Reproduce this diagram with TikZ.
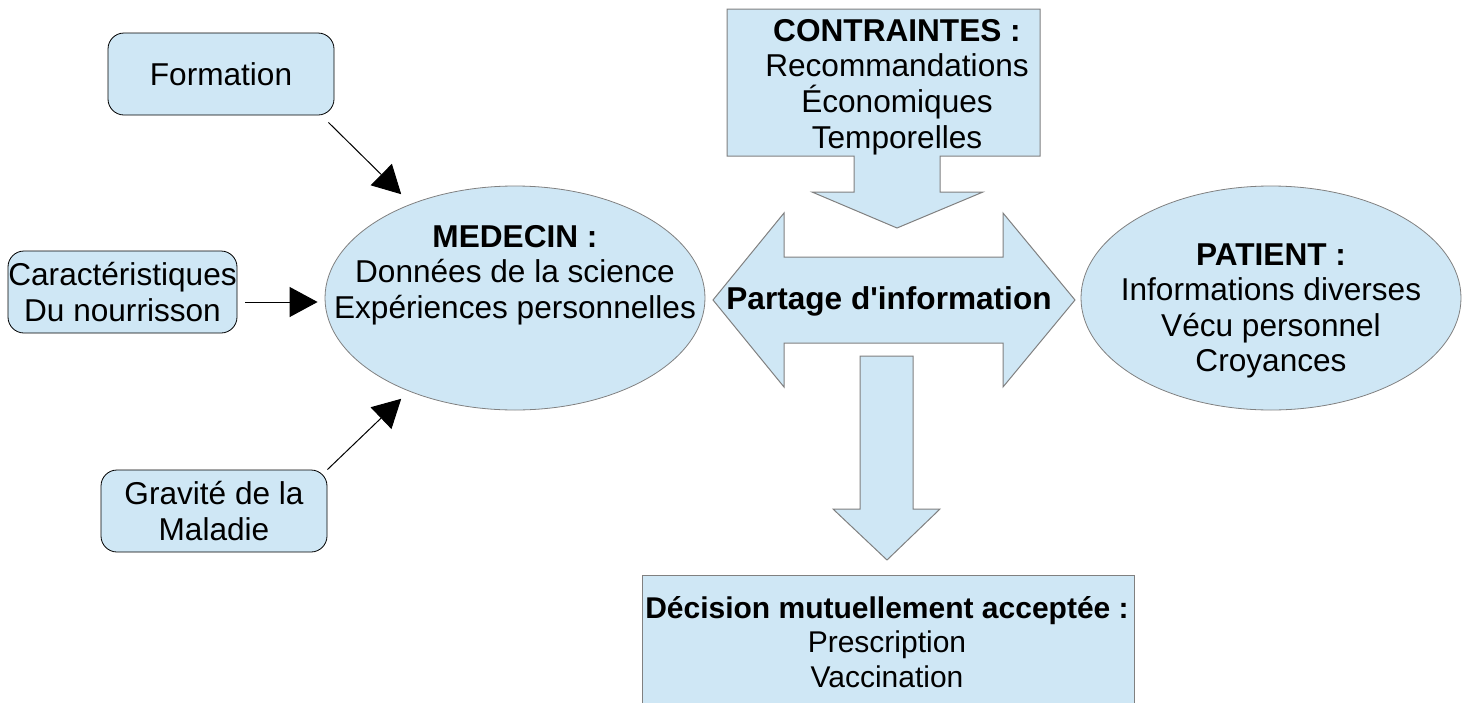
\documentclass[tikz,border=0pt]{standalone}
\usepackage{fontspec}
\setmainfont{Liberation Sans}
\usetikzlibrary{shapes.geometric,arrows.meta}
\definecolor{bleu}{HTML}{CFE7F5}
\definecolor{contour}{HTML}{808080}
\newcommand{\fs}{\fontsize{15.8}{17.8}\selectfont}
\newcommand{\fsd}{\fontsize{15}{17.2}\selectfont}
\tikzstyle{boite}=[draw=black,fill=bleu,rounded corners=8pt,inner sep=0pt,minimum width=113pt,minimum height=41pt,align=center,font=\fs]
\tikzstyle{bulle}=[draw=contour,fill=bleu,ellipse,minimum width=190pt,minimum height=112pt]
\tikzstyle{cadre}=[draw=contour,fill=bleu,rectangle]
\tikzstyle{forme}=[draw=contour,fill=bleu,line width=0.5pt]
\tikzstyle{texte}=[align=center,font=\fs,inner sep=0pt]
\tikzstyle{fleche}=[-{Triangle[length=14pt,width=15pt]},line width=0.5pt]

\begin{document}
\begin{tikzpicture}[x=0.5pt,y=-0.5pt]
	\clip (0,0) rectangle (1468,702);
	% sources a gauche
	\node[boite] (formation) at (221,74) {Formation};
	\node[boite,minimum width=114.5pt] (carac) at (122.5,292) {Caractéristiques\\Du nourrisson};
	\node[boite] (gravite) at (214,511) {Gravité de la\\Maladie};
	% les deux acteurs
	\node[bulle] (medecin) at (515,298) {};
	\node[texte] at (515,275) {\textbf{MEDECIN :}\\Données de la science\\Expériences personnelles};
	\node[bulle] (patient) at (1271,298) {};
	\node[texte] at (1271,311) {\textbf{PATIENT :}\\Informations diverses\\Vécu personnel\\Croyances};
	% contraintes
	\draw[forme] (727,9) -- (1040,9) -- (1040,156) -- (940,156) -- (940,192) -- (983,192)
		-- (897,228) -- (812,192) -- (854,192) -- (854,156) -- (727,156) -- cycle;
	\node[texte] (contraintes) at (897,87) {\textbf{CONTRAINTES :}\\Recommandations\\Économiques\\Temporelles};
	% partage
	\draw[forme] (713,300) -- (784,213) -- (784,257) -- (1003,257) -- (1003,213) -- (1075,300)
		-- (1003,387) -- (1003,343) -- (784,343) -- (784,387) -- cycle;
	\node[texte] (partage) at (889,301) {\textbf{Partage d\textquotesingle information}};
	\draw[forme] (860,356) -- (913,356) -- (913,509) -- (940,509) -- (887,560) -- (833,509) -- (860,509) -- cycle;
	% decision
	\node[cadre,anchor=north,minimum width=246pt,minimum height=70pt] (decision) at (888,575) {};
	\node[texte,font=\fsd] at (887,642) {\textbf{Décision mutuellement acceptée :}\\Prescription\\Vaccination};
	% fleches
	\draw[fleche] ([xshift=-3pt,yshift=-3.5pt]formation.south east) -- ([xshift=-8.5pt,yshift=3.5pt]medecin.135);
	\draw[fleche] ([xshift=4pt,yshift=-5pt]carac.east) -- ([xshift=-3.5pt,yshift=-2pt]medecin.west);
	\draw[fleche] (gravite.north east) -- ([xshift=-8.5pt,yshift=-2pt]medecin.225);
\end{tikzpicture}
\end{document}
